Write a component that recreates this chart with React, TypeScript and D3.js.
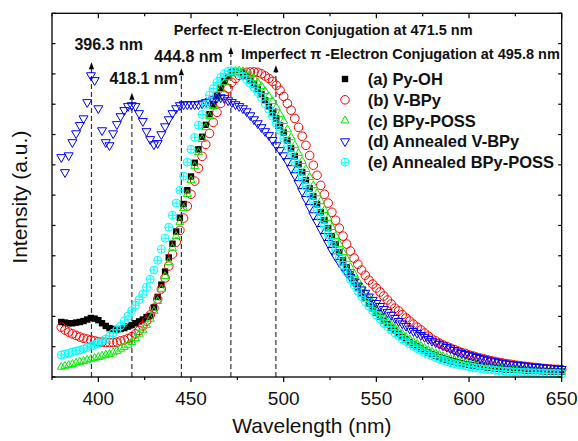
import React from 'react';
import * as d3 from 'd3';

// Wavelength grid (nm): first sample and sampling step
const WL_START = 380;
const WL_STEP = 2;

const X_DOMAIN = [375, 650];
const X_MAJOR = [400, 450, 500, 550, 600, 650];
const X_MINOR = [375, 425, 475, 525, 575, 625];
const Y_MAX = 1.19;
const Y_TICK_COUNT = 12;

// (a) Py-OH
const pyOH = [
  0.180, 0.178, 0.176, 0.176, 0.178, 0.180, 0.183, 0.188, 0.193, 0.191,
  0.186, 0.176, 0.167, 0.160, 0.157, 0.155, 0.157, 0.160, 0.165, 0.170,
  0.176, 0.182, 0.188, 0.196, 0.200, 0.228, 0.262, 0.302, 0.345, 0.391,
  0.436, 0.476, 0.521, 0.566, 0.611, 0.656, 0.701, 0.745, 0.786, 0.825,
  0.860, 0.892, 0.921, 0.946, 0.968, 0.984, 0.996, 1.000, 0.998, 0.993,
  0.983, 0.970, 0.957, 0.941, 0.925, 0.905, 0.885, 0.866, 0.846, 0.823,
  0.800, 0.774, 0.748, 0.722, 0.696, 0.670, 0.644, 0.617, 0.591, 0.565,
  0.539, 0.513, 0.487, 0.461, 0.434, 0.408, 0.382, 0.359, 0.336, 0.313,
  0.293, 0.273, 0.256, 0.240, 0.225, 0.210, 0.197, 0.184, 0.173, 0.161,
  0.151, 0.141, 0.131, 0.123, 0.114, 0.106, 0.100, 0.093, 0.087, 0.080,
  0.075, 0.070, 0.065, 0.061, 0.057, 0.054, 0.051, 0.048, 0.045, 0.042,
  0.040, 0.038, 0.036, 0.035, 0.033, 0.031, 0.030, 0.029, 0.027, 0.026,
  0.025, 0.025, 0.024, 0.023, 0.023, 0.022, 0.021, 0.021, 0.020, 0.020,
  0.019, 0.019, 0.019, 0.018, 0.018, 0.018,
];

// (b) V-BPy
const vBPy = [
  0.163, 0.154, 0.147, 0.141, 0.136, 0.131, 0.127, 0.124, 0.121, 0.118,
  0.116, 0.114, 0.113, 0.113, 0.113, 0.114, 0.118, 0.121, 0.126, 0.132,
  0.141, 0.152, 0.167, 0.183, 0.203, 0.225, 0.255, 0.288, 0.324, 0.363,
  0.402, 0.441, 0.480, 0.520, 0.559, 0.598, 0.641, 0.683, 0.722, 0.761,
  0.797, 0.833, 0.866, 0.895, 0.922, 0.944, 0.964, 0.977, 0.987, 0.993,
  0.997, 0.998, 0.998, 0.997, 0.992, 0.985, 0.977, 0.967, 0.954, 0.938,
  0.918, 0.895, 0.873, 0.846, 0.817, 0.788, 0.758, 0.725, 0.693, 0.660,
  0.627, 0.598, 0.569, 0.539, 0.513, 0.487, 0.461, 0.435, 0.412, 0.389,
  0.369, 0.350, 0.333, 0.317, 0.304, 0.291, 0.278, 0.265, 0.252, 0.239,
  0.225, 0.216, 0.204, 0.193, 0.183, 0.173, 0.163, 0.154, 0.144, 0.134,
  0.124, 0.118, 0.111, 0.105, 0.100, 0.095, 0.090, 0.085, 0.080, 0.077,
  0.072, 0.069, 0.065, 0.062, 0.059, 0.056, 0.053, 0.051, 0.048, 0.046,
  0.044, 0.042, 0.040, 0.038, 0.037, 0.035, 0.034, 0.032, 0.031, 0.030,
  0.028, 0.027, 0.026, 0.025, 0.025, 0.024,
];

// (c) BPy-POSS
const bpyPOSS = [
  0.033, 0.036, 0.039, 0.042, 0.046, 0.049, 0.052, 0.056, 0.059, 0.062,
  0.065, 0.069, 0.072, 0.075, 0.080, 0.085, 0.092, 0.098, 0.105, 0.114,
  0.127, 0.141, 0.154, 0.170, 0.190, 0.216, 0.248, 0.288, 0.330, 0.376,
  0.422, 0.461, 0.507, 0.552, 0.598, 0.644, 0.690, 0.735, 0.778, 0.817,
  0.853, 0.886, 0.915, 0.941, 0.964, 0.980, 0.993, 1.000, 1.002, 1.000,
  0.993, 0.987, 0.977, 0.964, 0.951, 0.935, 0.918, 0.902, 0.882, 0.859,
  0.837, 0.810, 0.784, 0.758, 0.732, 0.706, 0.680, 0.654, 0.627, 0.601,
  0.575, 0.546, 0.520, 0.490, 0.461, 0.435, 0.408, 0.386, 0.359, 0.337,
  0.314, 0.294, 0.275, 0.258, 0.242, 0.219, 0.206, 0.193, 0.181, 0.170,
  0.160, 0.150, 0.141, 0.131, 0.123, 0.114, 0.108, 0.101, 0.095, 0.088,
  0.082, 0.077, 0.072, 0.067, 0.063, 0.059, 0.056, 0.052, 0.049, 0.046,
  0.044, 0.042, 0.039, 0.037, 0.035, 0.034, 0.032, 0.031, 0.029, 0.028,
  0.027, 0.026, 0.025, 0.024, 0.024, 0.023, 0.022, 0.022, 0.021, 0.020,
  0.020, 0.019, 0.019, 0.019, 0.018, 0.018,
];

// (d) Annealed V-BPy
const annealedVBPy = [
  0.719, 0.670, 0.725, 0.768, 0.797, 0.824, 0.846, 0.899, 0.987, 0.971,
  0.879, 0.807, 0.768, 0.758, 0.797, 0.827, 0.853, 0.873, 0.886, 0.889,
  0.886, 0.863, 0.837, 0.804, 0.778, 0.761, 0.765, 0.794, 0.820, 0.843,
  0.863, 0.879, 0.889, 0.892, 0.892, 0.892, 0.892, 0.892, 0.895, 0.899,
  0.902, 0.908, 0.913, 0.915, 0.912, 0.905, 0.899, 0.892, 0.886, 0.879,
  0.869, 0.856, 0.843, 0.830, 0.817, 0.804, 0.791, 0.775, 0.758, 0.742,
  0.725, 0.706, 0.683, 0.660, 0.634, 0.608, 0.582, 0.556, 0.529, 0.507,
  0.484, 0.461, 0.438, 0.415, 0.395, 0.376, 0.358, 0.342, 0.327, 0.312,
  0.299, 0.286, 0.275, 0.263, 0.252, 0.242, 0.232, 0.222, 0.212, 0.203,
  0.193, 0.183, 0.175, 0.167, 0.158, 0.150, 0.144, 0.137, 0.131, 0.124,
  0.118, 0.113, 0.108, 0.103, 0.098, 0.093, 0.088, 0.083, 0.078, 0.075,
  0.072, 0.069, 0.065, 0.062, 0.059, 0.056, 0.053, 0.051, 0.048, 0.046,
  0.044, 0.042, 0.041, 0.039, 0.038, 0.037, 0.035, 0.034, 0.033, 0.032,
  0.031, 0.030, 0.029, 0.028, 0.027, 0.026,
];

// (e) Annealed BPy-POSS
const annealedBPyPOSS = [
  0.072, 0.075, 0.078, 0.082, 0.085, 0.088, 0.092, 0.096, 0.101, 0.106,
  0.111, 0.118, 0.124, 0.134, 0.144, 0.154, 0.167, 0.183, 0.199, 0.217,
  0.235, 0.253, 0.271, 0.294, 0.320, 0.350, 0.382, 0.418, 0.454, 0.490,
  0.529, 0.569, 0.611, 0.657, 0.703, 0.745, 0.784, 0.824, 0.859, 0.892,
  0.922, 0.944, 0.964, 0.980, 0.993, 1.000, 1.002, 1.000, 0.993, 0.985,
  0.974, 0.961, 0.948, 0.931, 0.915, 0.895, 0.876, 0.853, 0.830, 0.807,
  0.781, 0.755, 0.729, 0.703, 0.676, 0.650, 0.624, 0.598, 0.572, 0.546,
  0.520, 0.493, 0.467, 0.441, 0.415, 0.389, 0.366, 0.343, 0.320, 0.301,
  0.281, 0.263, 0.247, 0.232, 0.217, 0.203, 0.190, 0.176, 0.165, 0.154,
  0.144, 0.134, 0.124, 0.116, 0.108, 0.100, 0.093, 0.087, 0.080, 0.074,
  0.069, 0.064, 0.059, 0.055, 0.051, 0.047, 0.044, 0.041, 0.039, 0.036,
  0.034, 0.032, 0.030, 0.028, 0.026, 0.025, 0.024, 0.022, 0.021, 0.020,
  0.019, 0.018, 0.017, 0.017, 0.016, 0.015, 0.015, 0.014, 0.014, 0.013,
  0.013, 0.012, 0.012, 0.012, 0.011, 0.011,
];

const SERIES_NAMES = ['(a) Py-OH', '(b) V-BPy', '(c) BPy-POSS', '(d) Annealed V-BPy', '(e) Annealed BPy-POSS'];
const SERIES_VALUES = [pyOH, vBPy, bpyPOSS, annealedVBPy, annealedBPyPOSS];
const SERIES_COLORS = ['#000000', '#ff0000', '#00ee00', '#0000ff', '#00ffff'];
const SERIES_SHAPES = ['square', 'circle', 'triUp', 'triDown', 'crossCircle'];

// Annotated peak positions (nm) and their labels
const PEAK_WL = [396.3, 418.1, 444.8, 471.5, 495.8];
const PEAK_LABELS = ['396.3 nm', '418.1 nm', '444.8 nm', 'Perfect π-Electron Conjugation at 471.5 nm', 'Imperfect π -Electron Conjugation at 495.8 nm'];
const PEAK_ARROW_TOP = [1.03, 0.93, 1.01, 1.08, 1.02]; // in intensity units
const PEAK_LABEL_POS = [
  { dx: -17, y: 1.07, size: 16 },
  { dx: -22.5, y: 0.96, size: 16 },
  { dx: -27, y: 1.03, size: 16 },
  { dx: -57, y: 1.118, size: 14.5 },
  { dx: -35, y: 1.042, size: 14.5 },
];

const FONT = "Arial, 'Liberation Sans', Helvetica, sans-serif";

function Marker({ shape, color, cx, cy }: { shape: string; color: string; cx: number; cy: number }) {
  if (shape === 'square') {
    return <rect x={cx - 3.2} y={cy - 3.2} width={6.4} height={6.4} fill={color} />;
  }
  if (shape === 'circle') {
    return <circle cx={cx} cy={cy} r={4.3} fill="none" stroke={color} strokeWidth={1} />;
  }
  if (shape === 'triUp') {
    const s = 8, h = s * 0.866;
    return (
      <path
        d={`M${cx},${cy - (2 * h) / 3}L${cx + s / 2},${cy + h / 3}L${cx - s / 2},${cy + h / 3}Z`}
        fill="none" stroke={color} strokeWidth={1}
      />
    );
  }
  if (shape === 'triDown') {
    const s = 9, h = s * 0.866;
    return (
      <path
        d={`M${cx},${cy + (2 * h) / 3}L${cx + s / 2},${cy - h / 3}L${cx - s / 2},${cy - h / 3}Z`}
        fill="none" stroke={color} strokeWidth={1}
      />
    );
  }
  // crossed circle
  const r = 4;
  return (
    <g stroke={color} strokeWidth={1} fill="none">
      <circle cx={cx} cy={cy} r={r} />
      <path d={`M${cx - r},${cy}H${cx + r}M${cx},${cy - r}V${cy + r}`} />
    </g>
  );
}

export default function App() {
  const W = 578, H = 441;
  const L = 52, R = 561.7, T = 13.3, B = 377;
  const x = d3.scaleLinear().domain(X_DOMAIN).range([L, R]);
  const y = d3.scaleLinear().domain([0, Y_MAX]).range([B, T]);
  const yTicks = d3.range(Y_TICK_COUNT + 1).map((i) => (i * Y_MAX) / Y_TICK_COUNT);

  const wl = (i: number) => WL_START + i * WL_STEP;

  return (
    <svg width={W} height={H} style={{ position: 'absolute', left: 0, top: 0, background: '#fff' }} fontFamily={FONT}>
      <rect width={W} height={H} fill="#fff" />
      {/* dashed peak markers */}
      {PEAK_WL.map((p, i) => {
        const px = x(p);
        const tip = y(PEAK_ARROW_TOP[i]);
        return (
          <g key={'pk' + i}>
            <line x1={px} x2={px} y1={B} y2={tip + 5} stroke="#333" strokeWidth={1.2} strokeDasharray="5,3" />
            <path d={`M${px},${tip}L${px + 2.6},${tip + 7}L${px - 2.6},${tip + 7}Z`} fill="#000" />
          </g>
        );
      })}

      {/* data */}
      {SERIES_VALUES.map((vals, si) => (
        <g key={'s' + si}>
          {vals.map((v, i) => (
            <Marker key={i} shape={SERIES_SHAPES[si]} color={SERIES_COLORS[si]} cx={x(wl(i))} cy={y(v)} />
          ))}
        </g>
      ))}

      {/* frame */}
      <rect x={L} y={T} width={R - L} height={B - T} fill="none" stroke="#000" strokeWidth={1.3} />
      {X_MAJOR.map((t) => (
        <g key={'xb' + t}>
          <line x1={x(t)} x2={x(t)} y1={B} y2={B + 5} stroke="#000" strokeWidth={1.2} />
          <line x1={x(t)} x2={x(t)} y1={T} y2={T + 5} stroke="#000" strokeWidth={1.2} />
          <text x={x(t)} y={405} textAnchor="middle" fontSize={19} fill="#111">{t}</text>
        </g>
      ))}
      {X_MINOR.map((t) => (
        <g key={'xm' + t}>
          <line x1={x(t)} x2={x(t)} y1={B} y2={B + 3} stroke="#000" strokeWidth={1.2} />
          <line x1={x(t)} x2={x(t)} y1={T} y2={T + 3} stroke="#000" strokeWidth={1.2} />
        </g>
      ))}
      {yTicks.map((t, i) => (
        <g key={'y' + i}>
          <line x1={L} x2={L + 3.5} y1={y(t)} y2={y(t)} stroke="#000" strokeWidth={1.2} />
          <line x1={R} x2={R - 3.5} y1={y(t)} y2={y(t)} stroke="#000" strokeWidth={1.2} />
        </g>
      ))}

      {/* axis titles */}
      <text x={(L + R) / 2 + 5} y={433} textAnchor="middle" fontSize={21} fill="#111">Wavelength (nm)</text>
      <text transform={`translate(27,${(T + B) / 2 + 2}) rotate(-90)`} textAnchor="middle" fontSize={21} fill="#111">Intensity (a.u.)</text>

      {/* peak labels */}
      {PEAK_WL.map((p, i) => (
        <text key={'pl' + i} x={x(p) + PEAK_LABEL_POS[i].dx} y={y(PEAK_LABEL_POS[i].y)} fontSize={PEAK_LABEL_POS[i].size} fontWeight="bold" fill="#111">
          {PEAK_LABELS[i]}
        </text>
      ))}

      {/* legend */}
      {SERIES_NAMES.map((n, i) => {
        const cy = 79 + i * 20.8;
        return (
          <g key={'lg' + i}>
            <Marker shape={SERIES_SHAPES[i]} color={SERIES_COLORS[i]} cx={345} cy={cy} />
            <text x={367.7} y={cy + 6} fontSize={16.5} fontWeight="bold" fill="#111">{n}</text>
          </g>
        );
      })}
    </svg>
  );
}
